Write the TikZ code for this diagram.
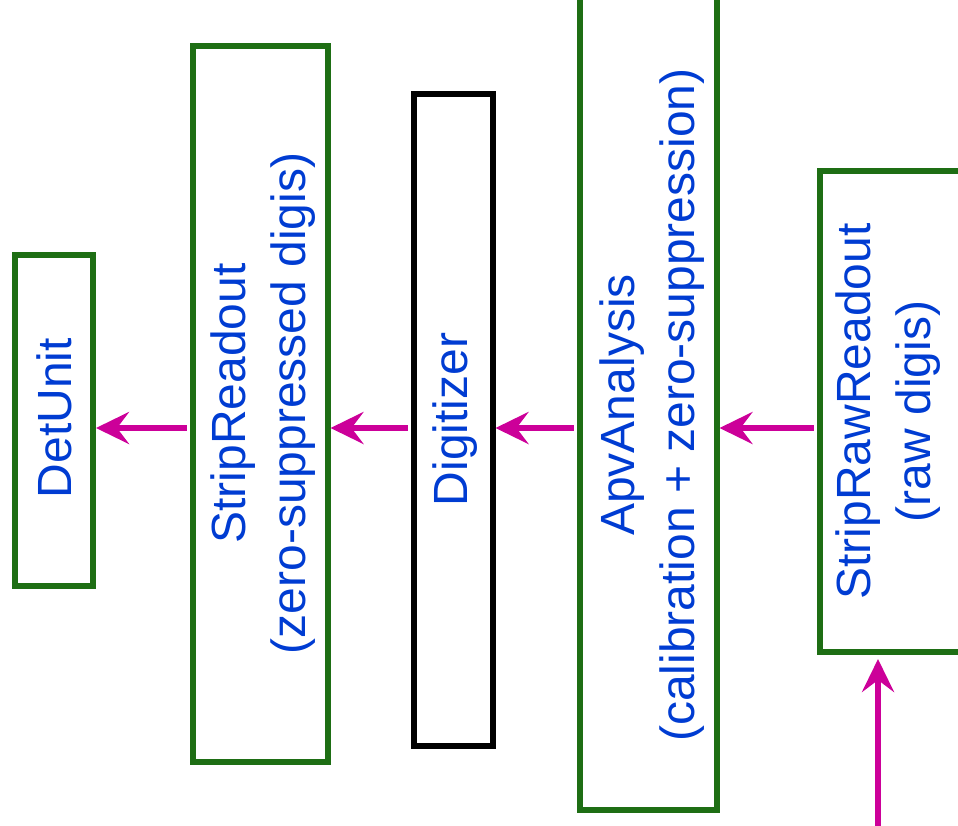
\documentclass[tikz,border=0pt]{standalone}
\usepackage{fontspec}
\setmainfont{Liberation Sans}
\usetikzlibrary{arrows.meta}
\definecolor{boxgreen}{RGB}{30,110,20}
\definecolor{labelblue}{RGB}{0,60,210}
\definecolor{flowmagenta}{RGB}{204,0,153}
\tikzset{
  stage/.style={draw=boxgreen, line width=6pt, inner sep=0pt, fill=none},
  blackstage/.style={stage, draw=black},
  vlabel/.style={rotate=90, align=center, text=labelblue, inner sep=0pt,
    font=\fontsize{48}{60}\selectfont},
  flow/.style={draw=flowmagenta, line width=6.5pt, shorten <=3pt,
    -{Stealth[length=33pt, width=32pt, inset=12pt]}},
}
\begin{document}
\begin{tikzpicture}[x=1pt, y=-1pt]
  \useasboundingbox (0,0) rectangle (958,825);
  \clip (0,0) rectangle (958,825);

  % processing stages
  \node[stage, minimum width=78pt, minimum height=331pt] (det) at (54,420) {};
  \node[stage, minimum width=135pt, minimum height=716pt] (strip) at (260,403.5) {};
  \node[blackstage, minimum width=79pt, minimum height=652pt] (digi) at (453,419.5) {};
  \node[stage, minimum width=137pt, minimum height=830pt] (apv) at (648,395) {};
  \node[stage, minimum width=147pt, minimum height=481pt] (raw) at (893,411.5) {};

  % stage labels
  \node[vlabel] (detl) at (54,418) {DetUnit};
  \node[vlabel] (stripl) at (263,403.5) {StripReadout\\(zero-suppressed digis)};
  \node[vlabel] (digil) at (455,419.5) {Digitizer};
  \node[vlabel] (apvl) at (652,405) {ApvAnalysis\\(calibration + zero-suppression)};
  \node[vlabel] (rawl) at (888,411.5) {StripRawReadout\\(raw digis)};

  % data flow
  \coordinate (lane) at (0,428);
  \coordinate (feed) at (878,830);
  \draw[flow] (strip.west |- lane) -- (det.east |- lane);
  \draw[flow] (digi.west |- lane) -- (strip.east |- lane);
  \draw[flow] (apv.west |- lane) -- (digi.east |- lane);
  \draw[flow] (raw.west |- lane) -- (apv.east |- lane);
  \draw[flow, shorten >=4pt] (feed) -- (raw.south -| feed);
\end{tikzpicture}
\end{document}
